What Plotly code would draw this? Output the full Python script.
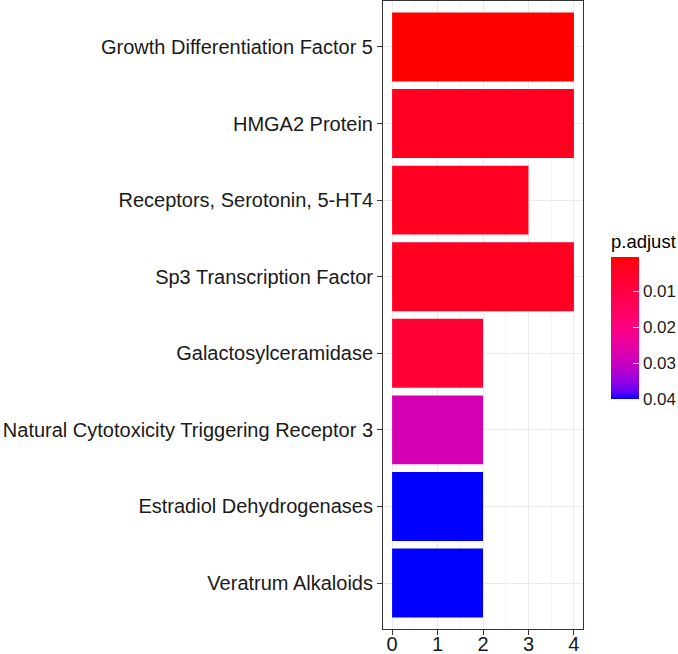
import plotly.graph_objects as go
import numpy as np

categories = [
    "Growth Differentiation Factor 5",
    "HMGA2 Protein",
    "Receptors, Serotonin, 5-HT4",
    "Sp3 Transcription Factor",
    "Galactosylceramidase",
    "Natural Cytotoxicity Triggering Receptor 3",
    "Estradiol Dehydrogenases",
    "Veratrum Alkaloids",
]
counts = [4, 4, 3, 4, 2, 2, 2, 2]
p_adjust = [0.0006, 0.004, 0.004, 0.0045, 0.0077, 0.028, 0.04, 0.04]
cbar_ticks = [0.01, 0.02, 0.03, 0.04]
x_ticks = [0, 1, 2, 3, 4]

# --- HCL (LCh) interpolation red -> blue with gamut clipping ---
def srgb_to_lin(c):
    c = np.asarray(c, float) / 255.0
    return np.where(c <= 0.04045, c / 12.92, ((c + 0.055) / 1.055) ** 2.4)

def lin_to_srgb(c):
    c = np.clip(c, 0, 1)
    v = np.where(c <= 0.0031308, 12.92 * c, 1.055 * np.power(c, 1 / 2.4) - 0.055)
    return np.clip(np.round(v * 255), 0, 255).astype(int)

M = np.array([[0.4124, 0.3576, 0.1805], [0.2126, 0.7152, 0.0722], [0.0193, 0.1192, 0.9505]])
Minv = np.linalg.inv(M)
WP = np.array([0.95047, 1.0, 1.08883])
D = 6 / 29

def f(t):
    return np.where(t > D ** 3, np.cbrt(t), t / (3 * D * D) + 4 / 29)

def finv(t):
    return np.where(t > D, t ** 3, 3 * D * D * (t - 4 / 29))

def rgb_to_lch(rgb):
    xyz = M @ srgb_to_lin(rgb) / WP
    fx, fy, fz = f(xyz)
    L, a, b = 116 * fy - 16, 500 * (fx - fy), 200 * (fy - fz)
    return np.array([L, np.hypot(a, b), np.degrees(np.arctan2(b, a)) % 360])

def lch_to_rgb(L, C, H):
    a = C * np.cos(np.radians(H))
    b = C * np.sin(np.radians(H))
    fy = (L + 16) / 116
    xyz = finv(np.array([fy + a / 500, fy, fy - b / 200])) * WP
    return lin_to_srgb(Minv @ xyz)

lr, cr, hr = rgb_to_lch([255, 0, 0])
lb, cb, hb = rgb_to_lch([0, 0, 255])
dh = ((hb - hr + 180) % 360) - 180
scale = []
N = 24
for i in range(N + 1):
    s = i / N          # 0 -> blue end, 1 -> red end
    t = 1 - s          # fraction from red
    r, g, b = lch_to_rgb(lr + (lb - lr) * t, cr + (cb - cr) * t, hr + dh * t)
    scale.append([s, f"rgb({r},{g},{b})"])

neg_p = [-p for p in p_adjust]

fig = go.Figure(go.Bar(
    x=counts,
    y=categories,
    orientation="h",
    width=0.9,
    marker=dict(
        color=neg_p,
        colorscale=scale,
        cmin=-max(p_adjust),
        cmax=-min(p_adjust),
        line=dict(width=0),
        colorbar=dict(
            title=dict(text="p.adjust", side="top", font=dict(size=18.5, color="black")),
            tickvals=[-v for v in cbar_ticks],
            ticktext=[f"{v:.2f}" for v in cbar_ticks],
            ticks="inside",
            ticklen=6,
            tickcolor="white",
            tickfont=dict(size=17, color="#1a1a1a"),
            outlinewidth=0,
            thickness=28,
            thicknessmode="pixels",
            len=168,
            lenmode="pixels",
            x=1.14,
            xanchor="left",
            xpad=0,
            y=0.366,
            yanchor="bottom",
            ypad=0,
        ),
    ),
    showlegend=False,
    hoverinfo="x+y",
))

fig.update_layout(
    width=678,
    height=654,
    margin=dict(l=383, r=95, t=1, b=25, autoexpand=False),
    plot_bgcolor="white",
    paper_bgcolor="white",
    font=dict(family="Liberation Sans, Arial, sans-serif", color="black"),
    bargap=0.1,
)
fig.update_xaxes(
    range=[-0.2, 4.2],
    tickvals=x_ticks,
    ticktext=[str(v) for v in x_ticks],
    tickfont=dict(size=20, color="#1a1a1a"),
    ticks="outside",
    ticklen=5,
    ticklabelstandoff=-8,
    tickcolor="#333333",
    showgrid=True,
    gridcolor="#EBEBEB",
    gridwidth=1,
    minor=dict(dtick=0.5, tick0=0, showgrid=True, gridcolor="#F5F5F5", gridwidth=0.5),
    zeroline=False,
    showline=True,
    linecolor="#333333",
    linewidth=1,
    mirror=True,
    automargin=False,
)
fig.update_yaxes(
    categoryorder="array",
    categoryarray=categories[::-1],
    range=[-0.6, 7.6],
    tickfont=dict(size=20, color="#1a1a1a"),
    ticks="outside",
    ticklen=5,
    tickcolor="#333333",
    showgrid=True,
    gridcolor="#EBEBEB",
    gridwidth=1,
    zeroline=False,
    showline=True,
    linecolor="#333333",
    linewidth=1,
    mirror=True,
    automargin=False,
)

fig.write_html(
    "out.html",
    config={"displayModeBar": False},
    post_script="document.body.style.margin='0';document.body.style.overflow='hidden';",
)
